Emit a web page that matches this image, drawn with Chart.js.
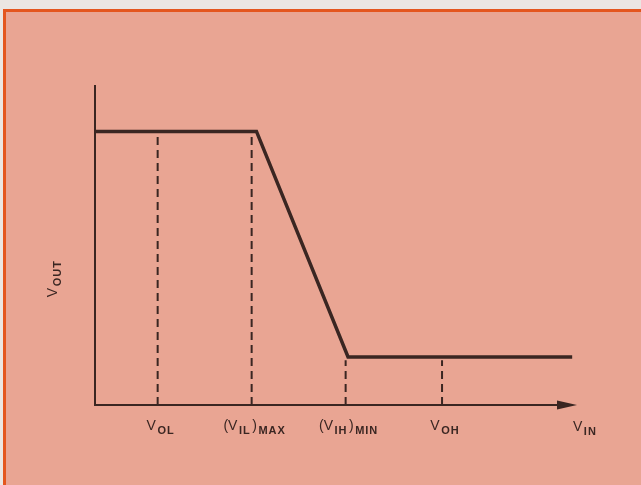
<!DOCTYPE html>
<html>
<head>
<meta charset="utf-8">
<title>Inverter transfer characteristic</title>
<script src="https://cdn.jsdelivr.net/npm/chart.js@4.4.1/dist/chart.umd.min.js"></script>
<style>
  html, body { margin: 0; padding: 0; background: #ebe6e2; overflow: hidden; }
  canvas { display: block; }
</style>
</head>
<body>
<canvas id="transfer" width="641" height="485"></canvas>
<script>
// transfer curve: V_OUT against V_IN (arbitrary units)
const vin = [0, 3.35, 5.25, 9.9];
const vout = [8.55, 8.55, 1.5, 1.5];

// threshold guides on the V_IN axis and the height each dashed line reaches
const guideX = [1.3, 3.25, 5.2, 7.2];
const guideTop = [8.4, 8.4, 1.4, 1.4];

// tick labels, split into alternating normal / subscript pieces
const tickLabels = [
  ['V', 'OL'],
  ['(V', 'IL', ')', 'MAX'],
  ['(V', 'IH', ')', 'MIN'],
  ['V', 'OH'],
];
const xTitle = ['V', 'IN'];
const yTitle = ['V', 'OUT'];

const ink = '#3a2622';
const paper = '#e9a593';
const frame = '#e4561e';

const curve = vin.map((x, i) => ({ x, y: vout[i] }));

const guides = guideX.map((x, i) => ({
  data: [{ x, y: 0 }, { x, y: guideTop[i] }],
  borderColor: ink,
  borderWidth: 2,
  borderDash: [8, 5],
  pointRadius: 0,
  fill: false,
}));

const mainFont = '14px "Liberation Sans"';
const subFont = 'bold 11px "Liberation Sans"';

function setPiece(ctx, sub) {
  ctx.font = sub ? subFont : mainFont;
  ctx.letterSpacing = sub ? '1px' : '0px';
}

// width of a label made of normal / subscript pieces
function pieceWidth(ctx, parts) {
  let w = 0;
  parts.forEach((p, i) => {
    setPiece(ctx, i % 2 === 1);
    w += ctx.measureText(p).width + 1.5;
  });
  return w - 1.5;
}

function drawPieces(ctx, parts, x, y) {
  let cx = x;
  parts.forEach((p, i) => {
    const sub = i % 2 === 1;
    setPiece(ctx, sub);
    ctx.fillText(p, cx, sub ? y + 4 : y);
    cx += ctx.measureText(p).width + 1.5;
  });
  ctx.letterSpacing = '0px';
}

const decor = {
  id: 'decor',
  beforeDraw(chart) {
    const ctx = chart.ctx;
    ctx.save();
    ctx.fillStyle = '#ebe6e2';
    ctx.fillRect(0, 0, chart.width, chart.height);
    ctx.fillStyle = paper;
    ctx.fillRect(4, 10, chart.width, chart.height);
    ctx.fillStyle = frame;
    ctx.fillRect(3, 9, chart.width, 3);
    ctx.fillRect(3, 9, 3, chart.height);
    ctx.restore();
  },
  afterDatasetsDraw(chart) {
    const ctx = chart.ctx;
    const xs = chart.scales.x;
    const ys = chart.scales.y;
    const x0 = xs.getPixelForValue(0);
    const y0 = ys.getPixelForValue(0);
    const xEnd = xs.getPixelForValue(xs.max);
    const yEnd = ys.getPixelForValue(ys.max);
    ctx.save();
    ctx.strokeStyle = ink;
    ctx.fillStyle = ink;
    ctx.lineWidth = 2;
    // axes
    ctx.beginPath();
    ctx.moveTo(x0, yEnd);
    ctx.lineTo(x0, y0);
    ctx.lineTo(xEnd - 16, y0);
    ctx.stroke();
    // arrow head on V_IN
    ctx.beginPath();
    ctx.moveTo(xEnd, y0);
    ctx.lineTo(xEnd - 20, y0 - 4.5);
    ctx.lineTo(xEnd - 20, y0 + 4.5);
    ctx.closePath();
    ctx.fill();

    // tick labels
    ctx.textBaseline = 'alphabetic';
    ctx.textAlign = 'left';
    guideX.forEach((v, i) => {
      const px = xs.getPixelForValue(v);
      const w = pieceWidth(ctx, tickLabels[i]);
      drawPieces(ctx, tickLabels[i], px - w / 2 + 3, y0 + 25);
    });
    drawPieces(ctx, xTitle, xEnd - 4, y0 + 26);

    // rotated V_OUT title
    ctx.translate(57, ys.getPixelForValue(3.95));
    ctx.rotate(-Math.PI / 2);
    const w = pieceWidth(ctx, yTitle);
    drawPieces(ctx, yTitle, -w / 2, 0);
    ctx.restore();
  },
};

new Chart(document.getElementById('transfer'), {
  type: 'line',
  data: {
    datasets: [
      {
        data: curve,
        borderColor: ink,
        borderWidth: 3.5,
        pointRadius: 0,
        fill: false,
        tension: 0,
        borderJoinStyle: 'miter',
      },
      ...guides,
    ],
  },
  options: {
    responsive: false,
    animation: false,
    layout: {
      padding: { left: 95, right: 64, top: 85, bottom: 80 },
    },
    scales: {
      x: { type: 'linear', min: 0, max: 10, display: false },
      y: { type: 'linear', min: 0, max: 10, display: false },
    },
    plugins: {
      legend: { display: false },
      tooltip: { enabled: false },
    },
  },
  plugins: [decor],
});
</script>
</body>
</html>
